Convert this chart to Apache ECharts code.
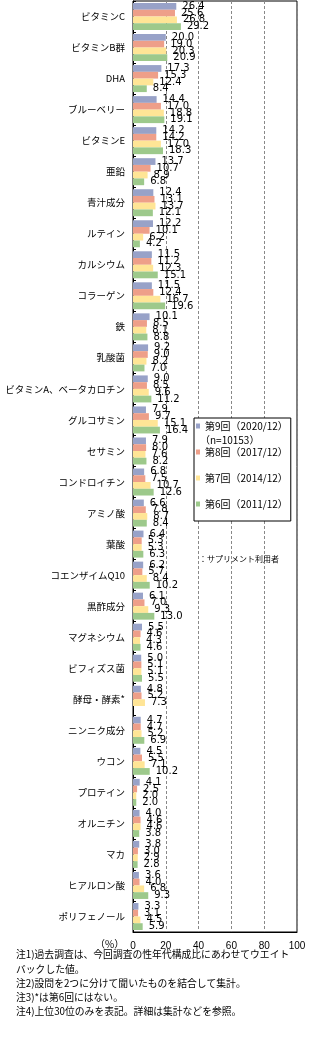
<!DOCTYPE html>
<html><head><meta charset="utf-8">
<script src="https://cdn.jsdelivr.net/npm/echarts@6/dist/echarts.min.js"></script>
<style>html,body{margin:0;padding:0;background:#fff}#c{width:336px;height:1050px}</style>
</head><body><div id="c"></div>
<script>
const categories = ["ビタミンC","ビタミンB群","DHA","ブルーベリー","ビタミンE","亜鉛","青汁成分","ルテイン","カルシウム","コラーゲン","鉄","乳酸菌","ビタミンA、ベータカロチン","グルコサミン","セサミン","コンドロイチン","アミノ酸","葉酸","コエンザイムQ10","黒酢成分","マグネシウム","ビフィズス菌","酵母・酵素*","ニンニク成分","ウコン","プロテイン","オルニチン","マカ","ヒアルロン酸","ポリフェノール"];
const seriesNames = ["第9回（2020/12）","第8回（2017/12）","第7回（2014/12）","第6回（2011/12）"];
const r9 = [26.4,20.0,17.3,14.4,14.2,13.7,12.4,12.2,11.5,11.5,10.1,9.2,9.0,7.9,7.9,6.8,6.6,6.4,6.2,6.1,5.5,5.0,4.8,4.7,4.5,4.1,4.0,3.8,3.6,3.3];
const r8 = [25.6,19.0,15.3,17.0,14.2,10.7,13.1,10.1,11.2,12.4,8.5,9.0,8.5,9.7,8.0,7.5,7.8,5.3,5.7,7.0,4.6,5.1,5.2,4.7,5.5,2.5,4.6,3.0,4.0,3.1];
const r7 = [26.8,20.3,12.4,18.8,17.0,8.9,13.7,6.2,12.3,16.7,8.1,8.2,9.6,15.1,7.6,10.7,8.7,5.3,8.4,9.3,4.3,5.1,7.3,5.2,7.1,2.0,4.6,2.9,6.8,4.5];
const r6 = [29.2,20.9,8.4,19.1,18.3,6.8,12.1,4.2,15.1,19.6,8.8,7.0,11.2,16.4,8.2,12.6,8.4,6.3,10.2,13.0,4.6,5.5,null,6.9,10.2,2.0,3.8,2.8,9.3,5.9];
const xTicks = [0,20,40,60,80,100];
const colors = ["#98A2C8","#EE9F89","#FFE596","#9DC98B"];
const values = [r9,r8,r7,r6];
const notes = ["注1)過去調査は、今回調査の性年代構成比にあわせてウエイト","バックした値。","注2)設問を2つに分けて聞いたものを結合して集計。","注3)*は第6回にはない。","注4)上位30位のみを表記。詳細は集計などを参照。"];
const noteY = [956,971,985,999,1013];

const chart = echarts.init(document.getElementById('c'));
const labelFont = {fontFamily:'DejaVu Sans', fontSize:10, color:'#000'};
chart.setOption({
  animation:false,
  grid:{left:133,right:39,top:1,bottom:118,show:true,borderColor:'#000',borderWidth:1,containLabel:false},
  legend:{orient:'vertical',left:194,top:418,padding:[1,3,10,2],borderColor:'#000',borderWidth:1,
    backgroundColor:'#fff',itemWidth:4,itemHeight:5,itemGap:12,icon:'rect',
    textStyle:{fontFamily:'Noto Sans CJK JP',fontSize:10,color:'#000',lineHeight:14},
    data:seriesNames},
  xAxis:{type:'value',min:0,max:100,interval:20,
    axisLine:{show:true,lineStyle:{color:'#000'}},axisTick:{show:false},
    axisLabel:{margin:9,fontFamily:'Liberation Sans',fontSize:10,color:'#000'},
    splitLine:{show:true,lineStyle:{color:'#888',type:[3,2],width:1}}},
  yAxis:{type:'category',data:categories,inverse:true,
    axisLine:{show:true,lineStyle:{color:'#000'}},
    axisTick:{show:true,inside:true,length:3,lineStyle:{color:'#000'}},
    axisLabel:{margin:8,fontFamily:'Noto Sans CJK JP',fontSize:9.5,color:'#000'}},
  series:values.map((v,i)=>({name:seriesNames[i],type:'bar',data:v,barGap:'0%',barCategoryGap:'13%',
    itemStyle:{color:colors[i]},
    label:{show:true,position:'right',distance:6,...labelFont,formatter:p=>p.value==null?'':p.value.toFixed(1)}})),
  graphic:[
    {type:'text',z:100,left:200,top:435,style:{text:'（n=10153）',font:'10px "Noto Sans CJK JP"',fill:'#000'}},
    {type:'text',z:100,left:199,top:555,style:{text:'：サプリメント利用者',font:'8px "Noto Sans CJK JP"',fill:'#000'}},
    {type:'text',z:100,left:95,top:939,style:{text:'（%）',font:'10px "Noto Sans CJK JP"',fill:'#000'}},
    ...notes.map((t,i)=>({type:'text',z:100,left:16,top:noteY[i]-7,style:{text:t,font:'9.8px "Noto Sans CJK JP"',fill:'#000'}}))
  ]
});
</script></body></html>
